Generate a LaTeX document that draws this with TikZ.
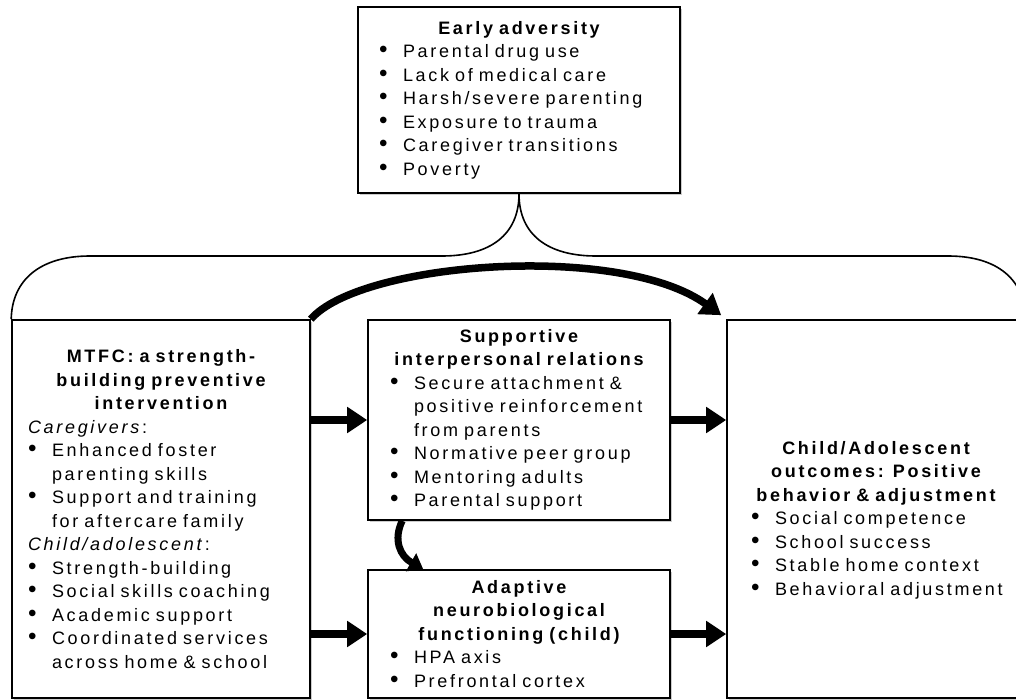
\documentclass[tikz,border=0pt]{standalone}
\usepackage{graphicx}
\usepackage{fontspec}
\setmainfont{Liberation Sans}[LetterSpace=15, WordSpace=1.8]
\usetikzlibrary{arrows.meta,shadows}

% bullet list used inside the boxes (optional indent of the bullet)
\newcommand\dotmark{\scalebox{1.35}{\textbullet}}
\newenvironment{bullets}[1][0pt]{\begin{list}{\dotmark}{%
  \setlength\leftmargin{\dimexpr #1+24pt\relax}\setlength\labelsep{0pt}%
  \setlength\labelwidth{\leftmargin}\setlength\itemsep{0pt}%
  \setlength\topsep{0pt}\setlength\parsep{0pt}\setlength\partopsep{0pt}%
  \renewcommand\makelabel[1]{\hspace{#1}##1\hfil}}}{\end{list}}
\newcommand\bodyfont{\fontsize{18}{23.5}\selectfont}
\newcommand\heading[1]{{\centering\bfseries #1\par}}

\tikzset{
  box/.style={draw, line width=1.6pt, fill=white, align=left, font=\bodyfont,
    inner ysep=2pt, drop shadow={shadow xshift=2pt, shadow yshift=-2pt, fill=gray!80}},
  txt/.style={align=left, font=\bodyfont, inner sep=0pt},
  fat/.style={line width=7.5pt, -{Triangle[length=20pt, width=25pt]}},
  brace/.style={line width=1.6pt}
}

\begin{document}
\begin{tikzpicture}[x=1pt, y=-1pt]
  \useasboundingbox (0,0) rectangle (1016,700);

  \node[box, minimum width=322, minimum height=186, text width=280, inner xsep=21pt] (adv) at (519,100) {%
    \heading{Early adversity}
    \begin{bullets}
      \item Parental drug use
      \item Lack of medical care
      \item Harsh/severe parenting
      \item Exposure to trauma
      \item Caregiver transitions
      \item Poverty
    \end{bullets}};

  \node[box, minimum width=298, minimum height=378, text width=270, inner xsep=14pt] (mtfc) at (161,509) {%
    \heading{MTFC: a strength-\\building preventive\\intervention}
    \hspace*{2pt}\textit{Caregivers}:
    \begin{bullets}[2pt]
      \item Enhanced foster\\parenting skills
      \item Support and training\\for aftercare family
    \end{bullets}
    \hspace*{2pt}\textit{Child/adolescent}:
    \begin{bullets}[2pt]
      \item Strength-building
      \item Social skills coaching
      \item Academic support
      \item Coordinated services\\across home \& school
    \end{bullets}};

  \node[box, minimum width=302, minimum height=200, text width=264, inner xsep=19pt] (sup) at (519,420) {%
    \heading{Supportive\\interpersonal relations}
    \begin{bullets}[3pt]
      \item Secure attachment \&\\positive reinforcement\\from parents
      \item Normative peer group
      \item Mentoring adults
      \item Parental support
    \end{bullets}};

  \node[box, minimum width=302, minimum height=128, text width=264, inner xsep=19pt] (neuro) at (519,634) {%
    \heading{Adaptive\\neurobiological\\functioning (child)}
    \begin{bullets}[3pt]
      \item HPA axis
      \item Prefrontal cortex
    \end{bullets}};

  % outcomes box, its text sits a little below the middle
  \node[box, minimum width=298, minimum height=378] (outc) at (876,509) {};
  \node[txt, text width=280] (outctxt) at ([yshift=-11pt]outc.center) {%
    \heading{Child/Adolescent\\outcomes: Positive\\behavior \& adjustment}
    \begin{bullets}[15pt]
      \item Social competence
      \item School success
      \item Stable home context
      \item Behavioral adjustment
    \end{bullets}};

  % brace from early adversity over the lower row
  \draw[brace] (mtfc.north west) .. controls (12,280) and (40,256) .. (90,256)
    -- (442,256) .. controls (490,256) and (519,235) .. (adv.south);
  \draw[brace] (adv.south) .. controls (519,235) and (548,256) .. (596,256)
    -- (948,256) .. controls (998,256) and (1025,280) .. (outc.north east);

  % arrows
  \draw[fat] (mtfc.north east) .. controls (360,262) and (620,242) .. ([xshift=-5pt, yshift=4pt]outc.north west);
  \draw[fat] (mtfc.east |- sup.west) -- (sup.west);
  \draw[fat] (mtfc.east |- neuro.west) -- (neuro.west);
  \draw[fat] (sup.east) -- (outc.west |- sup.east);
  \draw[fat] (neuro.east) -- (outc.west |- neuro.east);
  \draw[line width=7pt, -{Triangle[length=14pt, width=20pt]}]
    ([xshift=35pt]sup.south west) .. controls (393,540) and (400,556) .. ([xshift=56pt]neuro.north west);
\end{tikzpicture}
\end{document}
